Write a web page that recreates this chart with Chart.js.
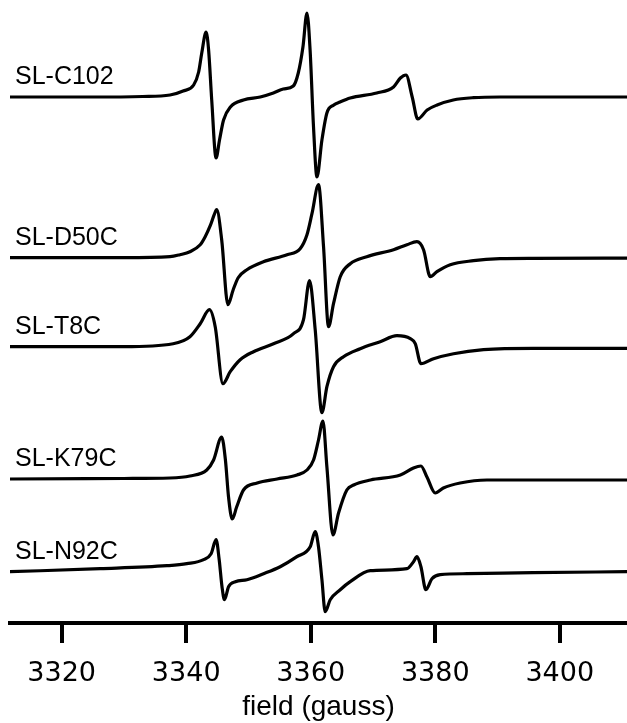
<!DOCTYPE html>
<html>
<head>
<meta charset="utf-8">
<script src="https://cdn.jsdelivr.net/npm/chart.js@4.4.1/dist/chart.umd.min.js"></script>
<style>
  html, body { margin: 0; padding: 0; background: #fff; }
  #wrap { width: 627px; height: 723px; }
</style>
</head>
<body>
<div id="wrap"><canvas id="eprChart"></canvas></div>
<script>
// spectra: field (G) vs derivative signal (arb. units, 0 = baseline)
const sampleNames = ['SL-C102', 'SL-D50C', 'SL-T8C', 'SL-K79C', 'SL-N92C'];

const fieldC102 = [3311.7, 3325, 3333, 3337.4, 3339.5, 3341.2, 3342.0, 3342.5, 3343.2, 3343.6, 3344.1, 3344.8, 3345.35, 3346.0, 3347.1, 3349.2, 3351.9, 3354.0, 3355.6, 3357.2, 3358.0, 3358.75, 3359.4, 3359.9, 3360.45, 3361.0, 3361.8, 3362.6, 3363.7, 3364.7, 3366.35, 3370.6, 3373.3, 3374.4, 3375.3, 3376.3, 3377.2, 3378.7, 3380.3, 3382.9, 3386.1, 3390.4, 3410.8];
const signalC102 = [0, 0, 0.5, 2, 6, 12, 25, 44, 65, 47, -3, -61, -43, -23, -10, -3, 0, 4, 8, 11, 24, 50, 84, 47, -30, -80, -43, -16, -8, -5, -1, 4, 10, 19, 22, 0, -22, -13, -8, -3, -0.7, 0, 0];

const fieldD50C = [3311.7, 3330, 3337.4, 3339.0, 3340.6, 3342.25, 3343.05, 3343.86, 3344.5, 3344.9, 3345.7, 3346.7, 3347.55, 3348.35, 3349.75, 3352.4, 3356.2, 3358.3, 3359.4, 3360.2, 3361.25, 3362.06, 3362.86, 3363.66, 3364.74, 3366.35, 3369.0, 3373.3, 3375.45, 3377.06, 3378.12, 3379.2, 3380.27, 3382.41, 3386.15, 3390.4, 3395.7, 3410.8];
const signalD50C = [0, 0, 1, 3, 6, 13, 21, 32, 43, 48, 18, -47, -32, -20, -12, -4, 3, 9, 23, 44, 73, 11, -69, -46, -19, -6, 1, 8, 13, 16, 8, -19, -14, -7, -3, -1, -0.6, -0.5];

const fieldT8C = [3311.7, 3330, 3337.9, 3340.6, 3342.25, 3343.74, 3344.66, 3345.9, 3347.07, 3348.67, 3350.81, 3354.02, 3357.24, 3358.84, 3359.81, 3360.72, 3361.8, 3362.6, 3363.66, 3365.27, 3367.95, 3371.16, 3373.85, 3376.0, 3376.79, 3377.7, 3379.73, 3382.94, 3387.76, 3395.7, 3410.8];
const signalT8C = [0, 0, 3, 10, 23, 37, 20, -37, -25, -13, -5, 3, 13, 27, 66, 17, -66, -40, -20, -10, -2, 5, 11, 8, 3, -17, -12, -7, -3, -1.6, -1.6];

const fieldK79C = [3311.7, 3330, 3337.4, 3340.6, 3343.3, 3344.4, 3345.7, 3346.3, 3346.8, 3347.4, 3348.1, 3349.2, 3351.4, 3354.6, 3357.8, 3359.4, 3360.45, 3361.25, 3361.96, 3362.6, 3363.57, 3364.47, 3365.8, 3366.9, 3369.6, 3374.4, 3376.5, 3377.7, 3378.67, 3380.0, 3381.3, 3384.0, 3388.3, 3410.8];
const signalK79C = [0, 0.5, 1, 3, 9, 19, 42, 19, -18, -40, -28, -11, -4, 0, 4, 9, 19, 39, 58, 12, -56, -34, -11, -6, -1, 4, 11, 13, 2, -14, -9, -4, -1, -1];

const fieldN92C = [3311.7, 3326.2, 3336.9, 3340.1, 3342.8, 3344.0, 3344.8, 3345.3, 3345.75, 3346.15, 3346.8, 3347.9, 3349.75, 3352.42, 3355.1, 3357.78, 3359.92, 3360.72, 3361.25, 3361.8, 3362.33, 3363.13, 3364.74, 3366.35, 3369.56, 3375.45, 3376.51, 3377.06, 3377.7, 3378.5, 3379.47, 3380.8, 3385.1, 3395.7, 3410.8];
const signalN92C = [0, 3, 6, 8, 12, 18, 32, 12, -15, -28, -15, -10, -8, -2, 5, 15, 25, 40, 25, -8, -40, -28, -18, -10, 1, 3, 10, 15, 5, -18, -7, -3, -2, -1, 0];

const fieldTicks = [3320, 3340, 3360, 3380, 3400];

// vertical stacking of the traces (chart units = px)
const traceOffsets = [526, 365.3, 276.3, 144, 51.3];

const traces = [
  [fieldC102, signalC102],
  [fieldD50C, signalD50C],
  [fieldT8C, signalT8C],
  [fieldK79C, signalK79C],
  [fieldN92C, signalN92C]
];

const datasets = traces.map(([field, signal], i) => ({
  label: sampleNames[i],
  data: field.map((f, j) => ({ x: f, y: traceOffsets[i] + signal[j] })),
  borderColor: '#000',
  borderWidth: 3.2,
  pointRadius: 0,
  fill: false,
  cubicInterpolationMode: 'monotone',
  borderJoinStyle: 'round',
  borderCapStyle: 'round'
}));

// sample names sit above the left end of each trace
const traceLabels = {
  id: 'traceLabels',
  afterDatasetsDraw(chart) {
    const { ctx, chartArea, scales } = chart;
    ctx.save();
    ctx.fillStyle = '#000';
    ctx.font = '25px "Liberation Sans", Arial, sans-serif';
    ctx.textBaseline = 'middle';
    ctx.textAlign = 'left';
    chart.data.datasets.forEach((ds, i) => {
      const y = scales.y.getPixelForValue(traceOffsets[i]) - 20;
      ctx.fillText(ds.label, chartArea.left + 5, y);
    });
    ctx.restore();
  }
};

new Chart(document.getElementById('eprChart'), {
  type: 'line',
  data: { datasets },
  options: {
    responsive: true,
    maintainAspectRatio: false,
    animation: false,
    layout: { padding: { left: 10, right: 0, top: 0, bottom: 0 } },
    plugins: {
      legend: { display: false },
      tooltip: { enabled: false }
    },
    scales: {
      x: {
        type: 'linear',
        min: 3311.7,
        max: 3410.8,
        afterBuildTicks(scale) {
          scale.ticks = fieldTicks.map(v => ({ value: v }));
        },
        afterFit(scale) {
          scale.height = 100;
        },
        border: { display: true, color: '#000', width: 4 },
        grid: {
          drawOnChartArea: false,
          drawTicks: true,
          tickLength: 20,
          lineWidth: 4,
          color: '#000'
        },
        ticks: {
          color: '#000',
          padding: 15,
          maxRotation: 0,
          callback: v => String(v),
          font: { family: '"DejaVu Sans", sans-serif', size: 27 }
        },
        title: {
          display: true,
          text: 'field (gauss)',
          color: '#000',
          padding: { top: 0, bottom: 2 },
          font: { family: '"Liberation Sans", Arial, sans-serif', size: 28, lineHeight: 1.0 }
        }
      },
      y: {
        type: 'linear',
        display: false,
        min: 0,
        max: 623
      }
    }
  },
  plugins: [traceLabels]
});
</script>
</body>
</html>
